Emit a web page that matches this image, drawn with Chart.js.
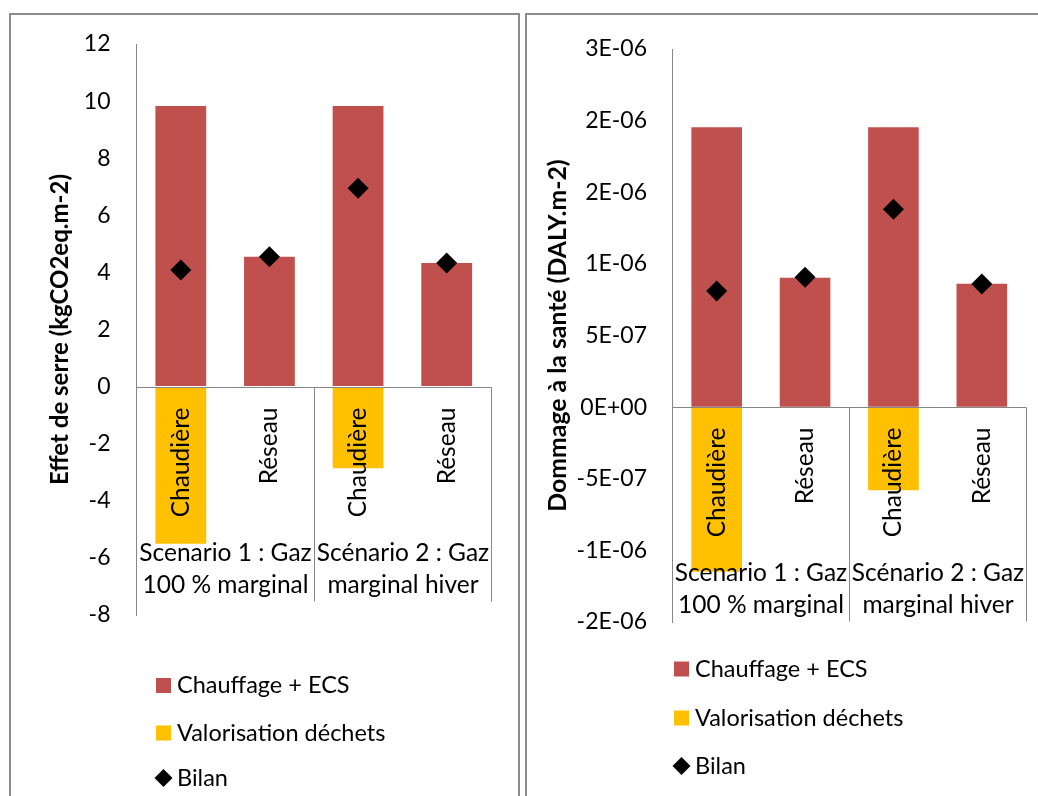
<!DOCTYPE html>
<html>
<head>
<meta charset="utf-8">
<script src="https://cdn.jsdelivr.net/npm/chart.js@4/dist/chart.umd.min.js"></script>
<style>
  body { margin: 0; background: #fff; width: 1038px; height: 796px; overflow: hidden; position: relative; }
  .panel { position: absolute; top: 13px; height: 800px; border: 2px solid #8c8c8c; box-sizing: border-box; background: #fff; }
  #p1 { left: 9px; width: 511px; }
  #p2 { left: 525px; width: 600px; }
  canvas { position: absolute; left: 0; top: 0; }
</style>
</head>
<body>
<div class="panel" id="p1"><canvas id="c1" width="507" height="781"></canvas></div>
<div class="panel" id="p2"><canvas id="c2" width="511" height="781"></canvas></div>
<script>
// categories (two levels)
const categories = ['Chaudière', 'Réseau', 'Chaudière', 'Réseau'];
const groups = [['Scenario 1 : Gaz', '100 % marginal'], ['Scénario 2 : Gaz', 'marginal hiver']];
const seriesNames = ['Chauffage + ECS', 'Valorisation déchets', 'Bilan'];

// left chart : effet de serre (kgCO2eq.m-2)
const ghgHeating = [9.83, 4.55, 9.83, 4.33];
const ghgWaste = [-5.5, 0, -2.86, 0];
const ghgBilan = [4.08, 4.55, 6.95, 4.33];
const ghgTickValues = [-8, -6, -4, -2, 0, 2, 4, 6, 8, 10, 12];
const ghgTickLabels = ['-8', '-6', '-4', '-2', '0', '2', '4', '6', '8', '10', '12'];

// right chart : dommage à la santé (DALY.m-2)
const dalyHeating = [1.953e-6, 0.903e-6, 1.953e-6, 0.861e-6];
const dalyWaste = [-1.15e-6, 0, -0.58e-6, 0];
const dalyBilan = [0.81e-6, 0.906e-6, 1.381e-6, 0.859e-6];
const dalyTickValues = [-1.5e-6, -1e-6, -5e-7, 0, 5e-7, 1e-6, 1.5e-6, 2e-6, 2.5e-6];
const dalyTickLabels = ['-2E-06', '-1E-06', '-5E-07', '0E+00', '5E-07', '1E-06', '2E-06', '2E-06', '3E-06'];

const RED = '#C0504D', YELLOW = '#FFC000';
const FONT = 'Lato, "Liberation Sans", sans-serif';
const AXIS = '#868686';

// category box under the zero line + custom legend
const excelBits = {
  id: 'excelBits',
  afterDraw(chart, args, o) {
    const { ctx, chartArea: { left, right }, scales: { x, y } } = chart;
    const y0 = Math.round(y.getPixelForValue(0)) + 0.5;
    const yb = y0 + 214;
    const mid = Math.round((x.getPixelForValue(1) + x.getPixelForValue(2)) / 2) + 0.5;
    const r = Math.round(right) + 0.5;
    ctx.save();
    ctx.strokeStyle = AXIS;
    ctx.lineWidth = 1;
    ctx.beginPath();
    ctx.moveTo(left, y0); ctx.lineTo(r, y0);
    ctx.moveTo(mid, y0); ctx.lineTo(mid, yb);
    ctx.moveTo(r, y0); ctx.lineTo(r, yb);
    ctx.stroke();

    ctx.fillStyle = '#000';
    ctx.font = '24.5px ' + FONT;
    categories.forEach((c, i) => {
      ctx.save();
      ctx.translate(x.getPixelForValue(i), y0 + 20);
      ctx.rotate(-Math.PI / 2);
      ctx.textAlign = 'right';
      ctx.textBaseline = 'middle';
      ctx.fillText(c, 0, 0);
      ctx.restore();
    });
    const edges = [left, mid, r];
    ctx.textAlign = 'center';
    ctx.textBaseline = 'middle';
    groups.forEach((g, i) => {
      const cx = (edges[i] + edges[i + 1]) / 2;
      ctx.fillText(g[0], cx, y0 + 166);
      ctx.fillText(g[1], cx, y0 + 198);
    });

    // legend
    ctx.font = '23.5px ' + FONT;
    ctx.textAlign = 'left';
    const ds = chart.data.datasets;
    ds.forEach((d, i) => {
      const cy = o.rows[i];
      if (d.type === 'line') {
        const cx = o.x + 7.5;
        ctx.beginPath();
        ctx.moveTo(cx - 9, cy); ctx.lineTo(cx, cy - 9); ctx.lineTo(cx + 9, cy); ctx.lineTo(cx, cy + 9);
        ctx.closePath();
        ctx.fillStyle = '#000';
        ctx.fill();
      } else {
        ctx.fillStyle = d.backgroundColor;
        ctx.fillRect(o.x, cy - 7.5, 15, 15);
      }
      ctx.fillStyle = '#000';
      ctx.fillText(d.label, o.x + 21, cy);
    });
    ctx.restore();
  }
};

function makeChart(id, heat, waste, bilan, tickValues, tickLabels, title, geo) {
  return new Chart(document.getElementById(id), {
    data: {
      labels: categories,
      datasets: [
        { type: 'bar', label: seriesNames[0], data: heat, backgroundColor: RED, order: 1 },
        { type: 'bar', label: seriesNames[1], data: waste, backgroundColor: YELLOW, order: 1 },
        { type: 'line', label: seriesNames[2], data: bilan, showLine: false, pointStyle: 'rectRot',
          pointRadius: 10.5, pointBackgroundColor: '#000', pointBorderColor: '#000', pointBorderWidth: 0, order: 0 }
      ]
    },
    options: {
      responsive: false,
      animation: false,
      layout: { padding: geo.padding },
      datasets: { bar: { barPercentage: 0.573, categoryPercentage: 1 } },
      plugins: { legend: { display: false }, tooltip: { enabled: false }, excelBits: geo.legend },
      scales: {
        x: { display: false, stacked: true },
        y: {
          min: tickValues[0], max: tickValues[tickValues.length - 1],
          afterBuildTicks: s => { s.ticks = tickValues.map(v => ({ value: v })); },
          afterFit: s => { s.width = geo.axisW; },
          // invisible tick marks give the label gap without adding top padding
          grid: { display: true, drawOnChartArea: false, color: 'rgba(0,0,0,0)', drawTicks: true, tickLength: geo.tickPad },
          border: { display: true, color: AXIS, width: 1 },
          ticks: { font: { family: FONT, size: 23 }, color: '#000', padding: 0,
                   callback: (v, i) => tickLabels[i] },
          title: { display: true, text: title, color: '#000',
                   font: { family: FONT, size: geo.titleSize, weight: 'bold' }, padding: { top: geo.titlePad, bottom: 0 } }
        }
      }
    },
    plugins: [excelBits]
  });
}

makeChart('c1', ghgHeating, ghgWaste, ghgBilan, ghgTickValues, ghgTickLabels, 'Effet de serre (kgCO2eq.m-2)', {
  padding: { left: 0, top: 29, right: 27, bottom: 181 },
  axisW: 125.5, tickPad: 26, titlePad: 35, titleSize: 24,
  legend: { x: 145, rows: [670.5, 718, 763] }
});
makeChart('c2', dalyHeating, dalyWaste, dalyBilan, dalyTickValues, dalyTickLabels, 'Dommage à la santé (DALY.m-2)', {
  padding: { left: 0, top: 34, right: 12, bottom: 174 },
  axisW: 145.5, tickPad: 25.5, titlePad: 16, titleSize: 24.8,
  legend: { x: 147, rows: [654, 703, 751] }
});
</script>
</body>
</html>
